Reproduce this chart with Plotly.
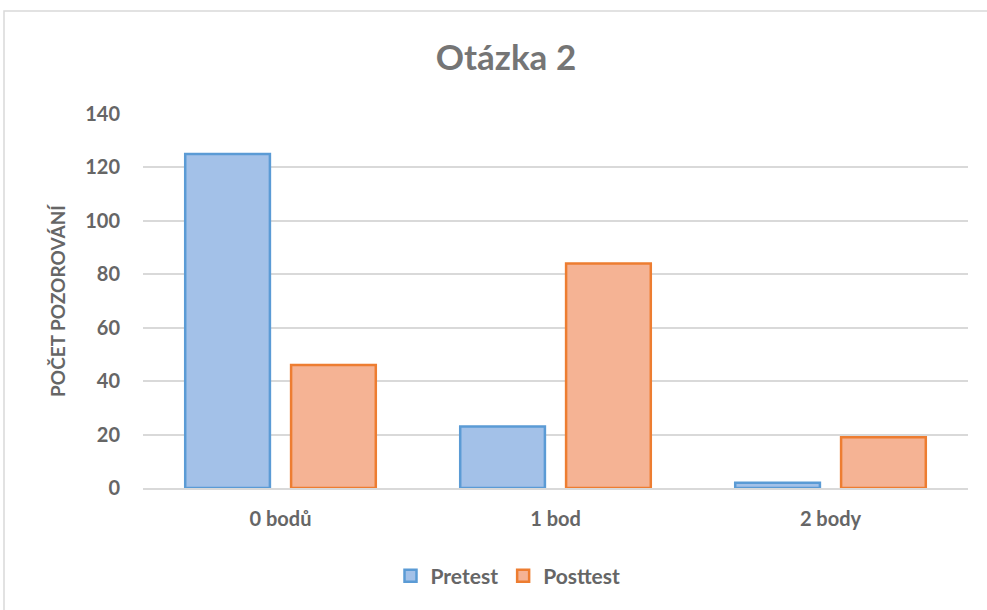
import plotly.graph_objects as go

categories = ["0 bodů", "1 bod", "2 body"]
pretest = [125, 23, 2]
posttest = [46, 84, 19]
y_ticks = [0, 20, 40, 60, 80, 100, 120, 140]

fig = go.Figure()
fig.add_trace(go.Bar(
    name="<b>Pretest</b>", x=categories, y=pretest,
    marker=dict(color="#a3c1e8", line=dict(color="#5b9bd5", width=2.5)),
))
fig.add_trace(go.Bar(
    name="<b>Posttest</b>", x=categories, y=posttest,
    marker=dict(color="#f5b394", line=dict(color="#ed7d31", width=2.5)),
))

L, R, T, B = 143, 19, 114, 122
W, H = 987, 610
pw, ph = W - L - R, H - T - B

fig.update_layout(
    width=W, height=H,
    margin=dict(l=L, r=R, t=T, b=B),
    paper_bgcolor="white", plot_bgcolor="white",
    barmode="group", bargap=0.23, bargroupgap=0.2,
    font=dict(family="Lato, Open Sans, sans-serif", color="#595959"),
    title=dict(text="<b>Otázka 2</b>", x=(506 - 0) / W, xanchor="center",
               y=1 - 58 / H, yanchor="middle",
               font=dict(size=35, color="#757575")),
    legend=dict(orientation="h", x=(508 - L) / pw, xanchor="center",
                y=-(576 - (H - B)) / ph, yanchor="middle",
                itemwidth=30, tracegroupgap=0,
                font=dict(size=21, color="#666666")),
    shapes=[dict(type="rect", xref="paper", yref="paper",
                 x0=(4 - L) / pw, x1=1.2, y0=-0.6, y1=(H - B - 11) / ph,
                 line=dict(color="#d9d9d9", width=1.5), fillcolor="rgba(0,0,0,0)",
                 layer="below")],
)
fig.update_xaxes(showgrid=False, showline=True, linecolor="#d9d9d9", linewidth=1.5,
                 tickfont=dict(size=20, color="#666666"), ticks="",
                 ticklabelstandoff=12,
                 tickvals=categories, ticktext=["<b>%s</b>" % c for c in categories])
fig.update_yaxes(range=[0, 140], tickvals=y_ticks,
                 ticktext=["<b>%d</b>" % v for v in y_ticks],
                 showgrid=True, gridcolor="#d9d9d9", gridwidth=1.5,
                 zeroline=False, showline=False, ticks="",
                 tickfont=dict(size=20, color="#666666"), ticklabelstandoff=22,
                 title=dict(text="<b>POČET POZOROVÁNÍ</b>", standoff=14,
                            font=dict(size=19, color="#666666")))

fig.write_html("out.html", config={"displayModeBar": False},
               post_script="document.body.style.margin='0';")
